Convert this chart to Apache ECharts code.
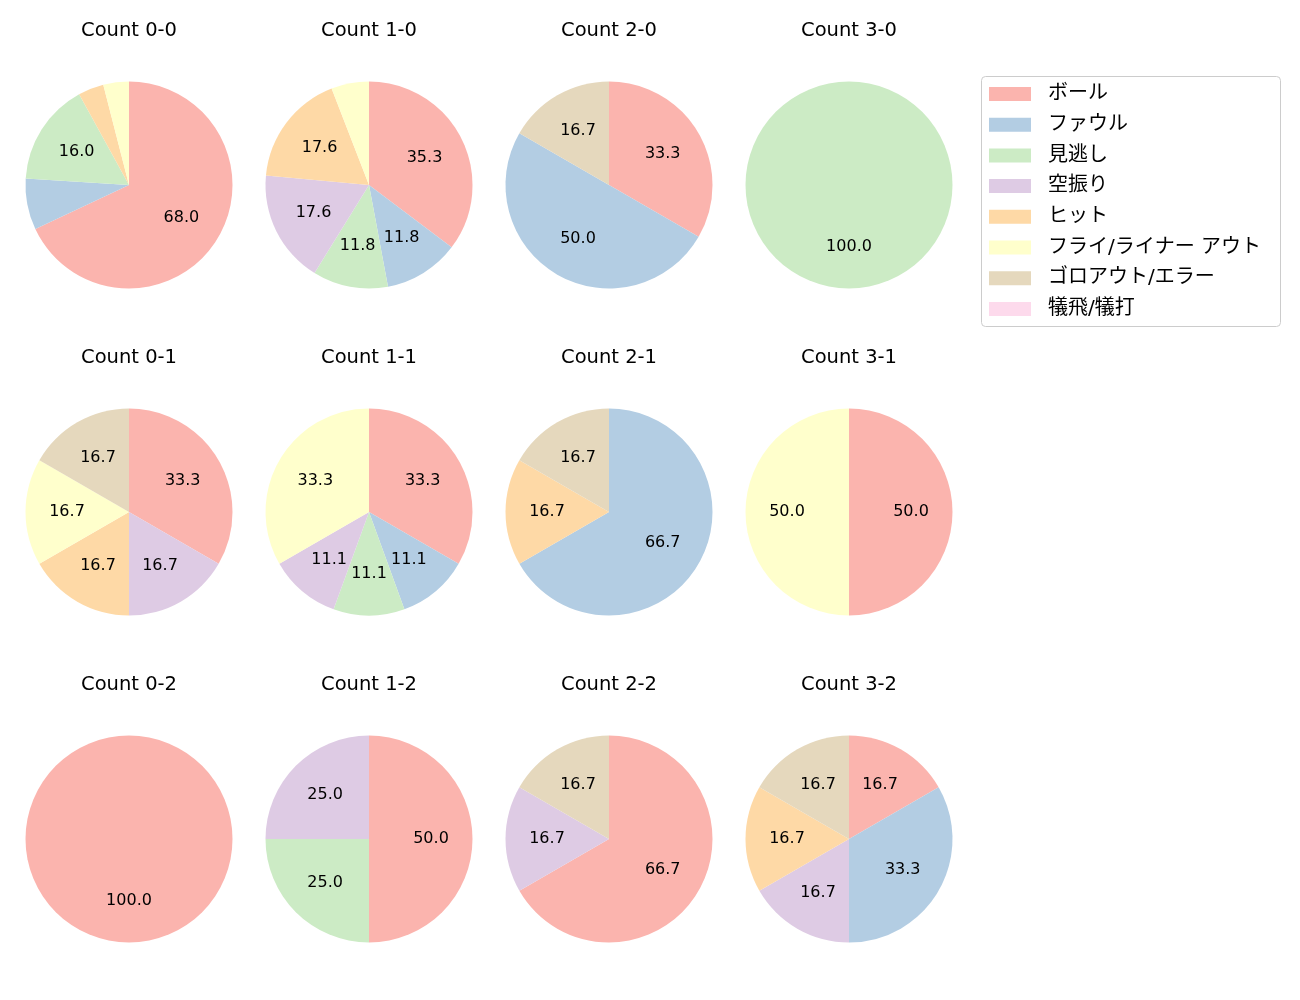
<!DOCTYPE html>
<html><head><meta charset="utf-8">
<script src="https://cdn.jsdelivr.net/npm/echarts@6/dist/echarts.min.js"></script>
<style>html,body{margin:0;padding:0;background:#fff}#c{width:1300px;height:1000px}</style>
</head><body><div id="c"></div>
<script>
const categories = ['ボール','ファウル','見逃し','空振り','ヒット','フライ/ライナー アウト','ゴロアウト/エラー','犠飛/犠打'];
const colors = ['#fbb4ae','#b3cde3','#ccebc5','#decbe4','#fed9a6','#ffffcc','#e5d8bd','#fddaec'];
const countTitles = ['Count 0-0','Count 1-0','Count 2-0','Count 3-0','Count 0-1','Count 1-1','Count 2-1','Count 3-1','Count 0-2','Count 1-2','Count 2-2','Count 3-2'];
// pitch counts per category (order as categories)
const c00 = [17,2,4,0,1,1,0,0];
const c10 = [6,2,2,3,3,1,0,0];
const c20 = [2,3,0,0,0,0,1,0];
const c30 = [0,0,1,0,0,0,0,0];
const c01 = [2,0,0,1,1,1,1,0];
const c11 = [3,1,1,1,0,3,0,0];
const c21 = [0,4,0,0,1,0,1,0];
const c31 = [1,0,0,0,0,1,0,0];
const c02 = [1,0,0,0,0,0,0,0];
const c12 = [2,0,1,1,0,0,0,0];
const c22 = [4,0,0,1,0,0,1,0];
const c32 = [1,2,0,1,1,0,1,0];
const countValues = [c00,c10,c20,c30,c01,c11,c21,c31,c02,c12,c22,c32];

const LATIN = '"DejaVu Sans", "Noto Sans CJK JP", sans-serif';
const colX = [129,369,609,849];
const rowY = [185,512,839];
const R = 103.5;

const series = [];
const graphics = [];
countValues.forEach((vals, i) => {
  const cx = colX[i % 4], cy = rowY[Math.floor(i / 4)];
  const total = vals.reduce((a, b) => a + b, 0);
  const data = categories.map((n, k) => ({name: n, value: vals[k], itemStyle: {color: colors[k]}})).filter(d => d.value > 0);
  series.push({
    type: 'pie', center: [cx, cy], radius: [0, R], startAngle: 90, clockwise: true,
    silent: true, animation: false, label: {show: false}, labelLine: {show: false},
    emphasis: {disabled: true}, data: data
  });
  series.push({
    type: 'pie', center: [cx, cy], radius: [0, R * 1.14], startAngle: 90, clockwise: true,
    silent: true, animation: false,
    itemStyle: {color: 'rgba(0,0,0,0)'},
    label: {show: true, position: 'inside', color: '#000', fontSize: 16, fontFamily: LATIN,
      formatter: p => { const pc = p.value / total * 100; return pc >= 10 ? pc.toFixed(1) : ''; }},
    labelLine: {show: false}, emphasis: {disabled: true},
    data: data.map(d => ({name: d.name, value: d.value, itemStyle: {color: 'rgba(0,0,0,0)'}}))
  });
  graphics.push({type: 'text', x: cx, y: cy - 154,
    style: {text: countTitles[i], fill: '#000', font: '19.5px ' + LATIN, textAlign: 'center', textVerticalAlign: 'middle'}});
});

// legend dummy series to ensure all categories appear
series.push({type: 'pie', radius: 0, center: [-100, -100], silent: true, label: {show: false},
  data: categories.map((n, k) => ({name: n, value: 0, itemStyle: {color: colors[k]}}))});

graphics.push({type: 'rect', shape: {x: 981.5, y: 76.5, width: 299, height: 250, r: 4},
  style: {fill: 'rgba(255,255,255,0.8)', stroke: '#cccccc', lineWidth: 1}, z: -1});

const chart = echarts.init(document.getElementById('c'), null, {renderer: 'canvas'});
chart.setOption({
  animation: false,
  legend: {
    data: categories, orient: 'vertical', left: 989, top: 84, padding: 0,
    itemWidth: 42, itemHeight: 14, itemGap: 10.7, icon: 'rect', selectedMode: false,
    textStyle: {fontSize: 20, lineHeight: 20, color: '#000', fontFamily: LATIN, padding: [0,0,0,12]}
  },
  graphic: graphics,
  series: series
});
</script></body></html>
